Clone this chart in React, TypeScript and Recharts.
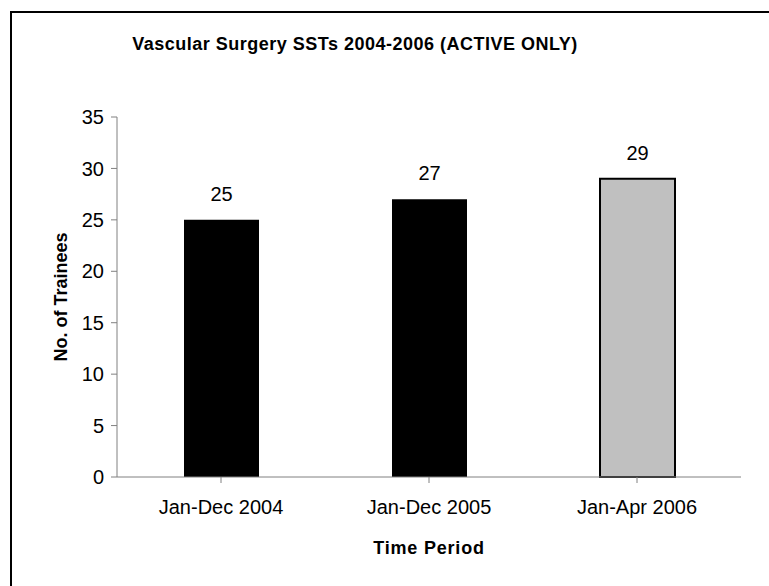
import { BarChart, Bar, XAxis, YAxis, Cell, LabelList } from "recharts";

const periods = ["Jan-Dec 2004", "Jan-Dec 2005", "Jan-Apr 2006"];
const trainees = [25, 27, 29];
const barFills = ["#000000", "#000000", "#c0c0c0"];
const yTicks = [0, 5, 10, 15, 20, 25, 30, 35];

const data = periods.map((p, i) => ({ period: p, value: trainees[i] }));

const FONT = "'Liberation Sans', Arial, sans-serif";

export default function App() {
  return (
    <div style={{ position: "absolute", left: 0, top: 0, width: 769, height: 586, overflow: "hidden", background: "#fff", fontFamily: FONT }}>
      <div style={{ position: "absolute", left: 10, top: 11, width: 800, height: 620, border: "2px solid #000" }} />
      <div style={{ position: "absolute", left: 0, top: 34, width: 710, textAlign: "center", fontWeight: "bold", fontSize: 18, letterSpacing: 0.5 }}>
        Vascular Surgery SSTs 2004-2006 (ACTIVE ONLY)
      </div>
      <div style={{ position: "absolute", left: 0, top: 0 }}>
        <BarChart width={769} height={586} data={data} margin={{ top: 117, right: 28, bottom: 79, left: 57 }}>
          <XAxis
            dataKey="period"
            stroke="#808080"
            tickLine={{ stroke: "#808080" }}
            tick={{ fill: "#000", fontSize: 20, fontFamily: FONT }}
            tickSize={6}
            tickMargin={17}
            height={30}
            interval={0}
            label={{ value: "Time Period", position: "insideBottom", offset: -47, fill: "#000", fontSize: 18, fontWeight: "bold", fontFamily: FONT, letterSpacing: 0.8 }}
          />
          <YAxis
            domain={[0, 35]}
            ticks={yTicks}
            stroke="#808080"
            tick={{ fill: "#000", fontSize: 20, fontFamily: FONT }}
            tickSize={6}
            tickMargin={7}
            width={60}
            label={{ value: "No. of Trainees", angle: -90, position: "insideLeft", offset: 4, style: { textAnchor: "middle" }, fill: "#000", fontSize: 18, fontWeight: "bold", fontFamily: FONT }}
          />
          <Bar dataKey="value" barSize={75} isAnimationActive={false}>
            {data.map((d, i) => (
              <Cell key={d.period} fill={barFills[i]} stroke="#000" strokeWidth={i === 2 ? 2 : 0} />
            ))}
            <LabelList dataKey="value" position="top" offset={19} fill="#000" fontSize={20} fontFamily={FONT} />
          </Bar>
        </BarChart>
      </div>
    </div>
  );
}
